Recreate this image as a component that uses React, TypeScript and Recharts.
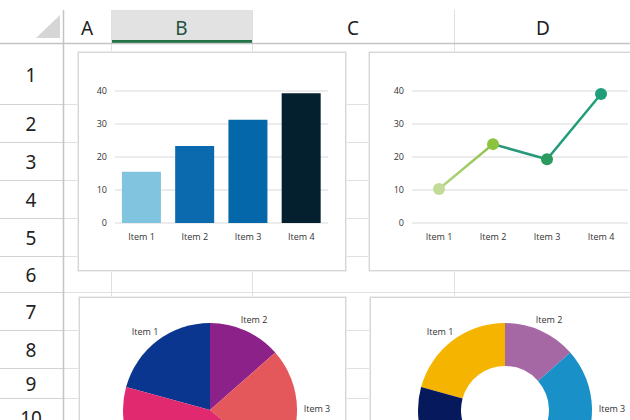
import React from 'react';
import { BarChart, Bar, LineChart, Line, PieChart, Pie, Cell, XAxis, YAxis, CartesianGrid } from 'recharts';

// chart data
const categories = ['Item 1', 'Item 2', 'Item 3', 'Item 4'];
const barValues = [15.5, 23.3, 31.3, 39.3];
const lineValues = [10.3, 23.9, 19.3, 39.1];
const pieValues = [20.75, 13.5, 22.4, 43.35];
const valueTicks = [0, 10, 20, 30, 40];

// sheet headers
const columnNames = ['A', 'B', 'C', 'D'];
const rowNames = ['1', '2', '3', '4', '5', '6', '7', '8', '9', '10'];

// sheet geometry
const colEdges = [63, 111, 252, 454, 632];
const rowEdges = [43, 104, 142, 180, 218, 256, 292, 330, 368, 398, 436];

const barColors = ['#80c4df', '#0b6aad', '#0467a9', '#04202f'];
const dotColors = ['#c2dc98', '#8dc43f', '#2a9a5e', '#1e9f79'];
const pieColors = ['#0a368f', '#8c2189', '#e4575b', '#e0296f'];
const donutColors = ['#f5b400', '#a668a4', '#1991c8', '#06195c'];

const barData = categories.map((name, i) => ({ name, value: barValues[i] }));
const lineData = categories.map((name, i) => ({ name, value: lineValues[i] }));
const pieData = categories.map((name, i) => ({ name, value: pieValues[i] }));

const tickStyle = { fontSize: 9, fill: '#333', fontFamily: 'Open Sans' };
const RAD = Math.PI / 180;

const renderPieLabel = (props: any) => {
  const { cx, cy, midAngle, index } = props;
  const x = cx + 107 * Math.cos(-midAngle * RAD);
  const y = cy + 99 * Math.sin(-midAngle * RAD);
  // labels below the visible sheet are not drawn
  if (y > 118) return null;
  return (
    <text x={x} y={y} textAnchor="middle" dominantBaseline="central" fontSize={9} fill="#333" fontFamily="Open Sans">
      {categories[index]}
    </text>
  );
};

const boxStyle = (left: number, top: number, width: number, height: number): React.CSSProperties => ({
  position: 'absolute', left, top, width, height,
  background: '#fff', border: '1px solid #d6d6d6', boxShadow: '0 0 0 1px #eeeeee', boxSizing: 'border-box',
});

const Sheet = () => (
  <svg width={630} height={420} style={{ position: 'absolute', left: 0, top: 0 }}>
    {/* column B selected */}
    <rect x={111} y={10} width={141} height={33} fill="#e2e2e2" />
    <rect x={111} y={40} width={141} height={3} fill="#217346" />
    <polygon points="60,15 60,38 36,38" fill="#d6d6d6" />
    {rowEdges.map((y) => (
      <g key={y}>
        <line x1={0} x2={63} y1={y + 0.5} y2={y + 0.5} stroke="#d2d2d2" />
        <line x1={63} x2={630} y1={y + 0.5} y2={y + 0.5} stroke="#e0e0e0" />
      </g>
    ))}
    {colEdges.slice(1).map((x) => (
      <line key={x} x1={x + 0.5} x2={x + 0.5} y1={10} y2={420} stroke="#e0e0e0" />
    ))}
    <line x1={0} x2={630} y1={43.5} y2={43.5} stroke="#c4c4c4" strokeWidth={1.5} />
    <line x1={63.5} x2={63.5} y1={10} y2={420} stroke="#c4c4c4" strokeWidth={1.5} />
    {columnNames.map((c, i) => (
      <text key={c} x={(colEdges[i] + colEdges[i + 1]) / 2} y={28} textAnchor="middle" dominantBaseline="central"
        fontSize={19} fontFamily="Noto Sans" fill={c === 'B' ? '#24513c' : '#222'}>{c}</text>
    ))}
    {rowNames.map((r, i) => (
      <text key={r} x={31} y={(rowEdges[i] + rowEdges[i + 1]) / 2 + 1} textAnchor="middle" dominantBaseline="central"
        fontSize={19} fontFamily="Noto Sans" fill="#222">{r}</text>
    ))}
  </svg>
);

export default function App() {
  return (
    <div style={{ position: 'absolute', left: 0, top: 0, width: 630, height: 420, overflow: 'hidden', background: '#fff' }}>
      <Sheet />
      <div style={boxStyle(78, 52, 268, 219)} />
      <div style={boxStyle(369, 52, 300, 219)} />
      <div style={boxStyle(79, 297, 267, 200)} />
      <div style={boxStyle(370, 297, 300, 200)} />

      <div style={{ position: 'absolute', left: 78, top: 52 }}>
        <BarChart width={267} height={218} data={barData} margin={{ top: 39, right: 17, bottom: 27, left: 17 }} barCategoryGap="13%">
          <CartesianGrid vertical={false} stroke="#d9d9d9" />
          <XAxis dataKey="name" axisLine={false} tickLine={false} height={20} tick={tickStyle} tickMargin={5} />
          <YAxis domain={[0, 40]} ticks={valueTicks} axisLine={false} tickLine={false} width={20} tick={tickStyle} />
          <Bar dataKey="value" isAnimationActive={false}>
            {barData.map((d, i) => (
              <Cell key={d.name} fill={barColors[i]} />
            ))}
          </Bar>
        </BarChart>
      </div>

      <div style={{ position: 'absolute', left: 369, top: 52 }}>
        <LineChart width={267} height={218} data={lineData} margin={{ top: 39, right: 8, bottom: 27, left: 23 }}>
          <defs>
            <linearGradient id="lineGrad" x1="0" y1="0" x2="1" y2="0">
              <stop offset="0" stopColor="#b3d683" />
              <stop offset="0.32" stopColor="#8fc24c" />
              <stop offset="0.34" stopColor="#2c967a" />
              <stop offset="1" stopColor="#1ea07a" />
            </linearGradient>
          </defs>
          <CartesianGrid vertical={false} stroke="#d9d9d9" />
          <XAxis dataKey="name" scale="point" padding={{ left: 27, right: 27 }} axisLine={false} tickLine={false} height={20} tick={tickStyle} tickMargin={5} />
          <YAxis domain={[0, 40]} ticks={valueTicks} axisLine={false} tickLine={false} width={20} tick={tickStyle} />
          <Line
            type="linear"
            dataKey="value"
            stroke="url(#lineGrad)"
            strokeWidth={2.5}
            isAnimationActive={false}
            activeDot={false}
            dot={(p: any) => <circle key={p.index} cx={p.cx} cy={p.cy} r={6} fill={dotColors[p.index]} />}
          />
        </LineChart>
      </div>

      <div style={{ position: 'absolute', left: 79, top: 297 }}>
        <PieChart width={266} height={200} margin={{ top: 0, right: 0, bottom: 0, left: 0 }}>
          <Pie data={pieData} dataKey="value" nameKey="name" cx={131} cy={113} outerRadius={87}
            startAngle={164.7} endAngle={-195.3} stroke="none" label={renderPieLabel} labelLine={false} isAnimationActive={false}>
            {pieData.map((d, i) => (
              <Cell key={d.name} fill={pieColors[i]} />
            ))}
          </Pie>
        </PieChart>
      </div>

      <div style={{ position: 'absolute', left: 370, top: 297 }}>
        <PieChart width={266} height={200} margin={{ top: 0, right: 0, bottom: 0, left: 0 }}>
          <Pie data={pieData} dataKey="value" nameKey="name" cx={135} cy={113} outerRadius={87} innerRadius={44}
            startAngle={164.7} endAngle={-195.3} stroke="none" label={renderPieLabel} labelLine={false} isAnimationActive={false}>
            {pieData.map((d, i) => (
              <Cell key={d.name} fill={donutColors[i]} />
            ))}
          </Pie>
        </PieChart>
      </div>
    </div>
  );
}
